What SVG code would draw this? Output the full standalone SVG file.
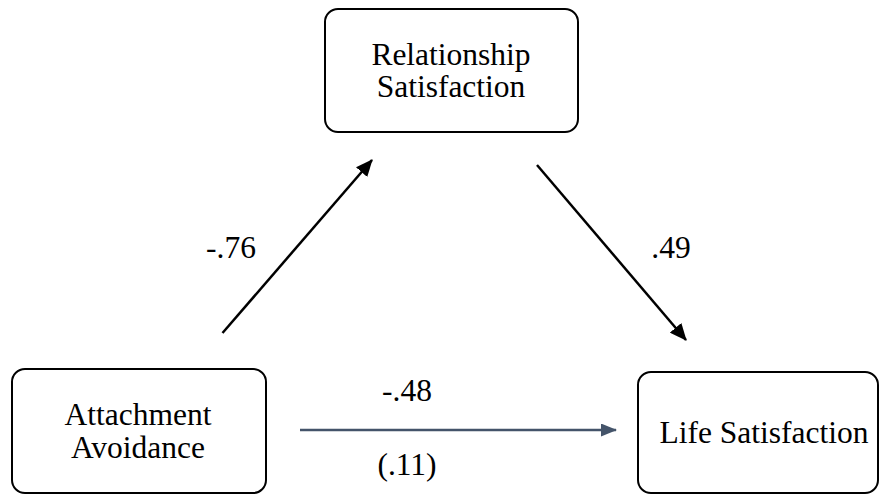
<svg xmlns="http://www.w3.org/2000/svg" width="883" height="495" viewBox="0 0 883 495">
<style>
.box{fill:#fff;stroke:#000;stroke-width:2}
text{font-family:'Liberation Serif','Times New Roman',serif;font-size:31.5px;fill:#000;text-anchor:middle}
.c{stroke:#000;stroke-width:2.5;fill:none}
.g{stroke:#44546A;stroke-width:2.5;fill:none}
</style>
<defs>
<marker id="ah" markerWidth="17" markerHeight="15" refX="16" refY="7.5" orient="auto" markerUnits="userSpaceOnUse" viewBox="0 0 17 15">
<path d="M0,0 L17,7.5 L0,15 z" fill="#000"/>
</marker>
<marker id="ahg" markerWidth="16" markerHeight="13" refX="15" refY="6.5" orient="auto" markerUnits="userSpaceOnUse" viewBox="0 0 16 13">
<path d="M0,0 L16,6.5 L0,13 z" fill="#44546A"/>
</marker>
</defs>
<rect width="883" height="495" fill="#fff"/>
<g id="connectors">
<line class="c" x1="222.5" y1="333" x2="372" y2="160" marker-end="url(#ah)"/>
<line class="c" x1="537" y1="165" x2="686" y2="340" marker-end="url(#ah)"/>
<line class="g" x1="300" y1="430" x2="616" y2="430" marker-end="url(#ahg)"/>
</g>
<g id="node-relationship">
<rect class="box" x="325" y="9" width="253" height="123" rx="13"/>
<text x="451" y="65">Relationship</text>
<text x="451" y="97">Satisfaction</text>
</g>
<g id="node-avoidance">
<rect class="box" x="12" y="369" width="254" height="124" rx="13"/>
<text x="138" y="425">Attachment</text>
<text x="138" y="458">Avoidance</text>
</g>
<g id="node-life">
<rect class="box" x="638" y="372" width="240" height="121" rx="13"/>
<text x="764" y="443">Life Satisfaction</text>
</g>
<g id="labels">
<text x="231" y="258">-.76</text>
<text x="671" y="258">.49</text>
<text x="407" y="401">-.48</text>
<text x="407" y="475">(.11)</text>
</g>
</svg>
